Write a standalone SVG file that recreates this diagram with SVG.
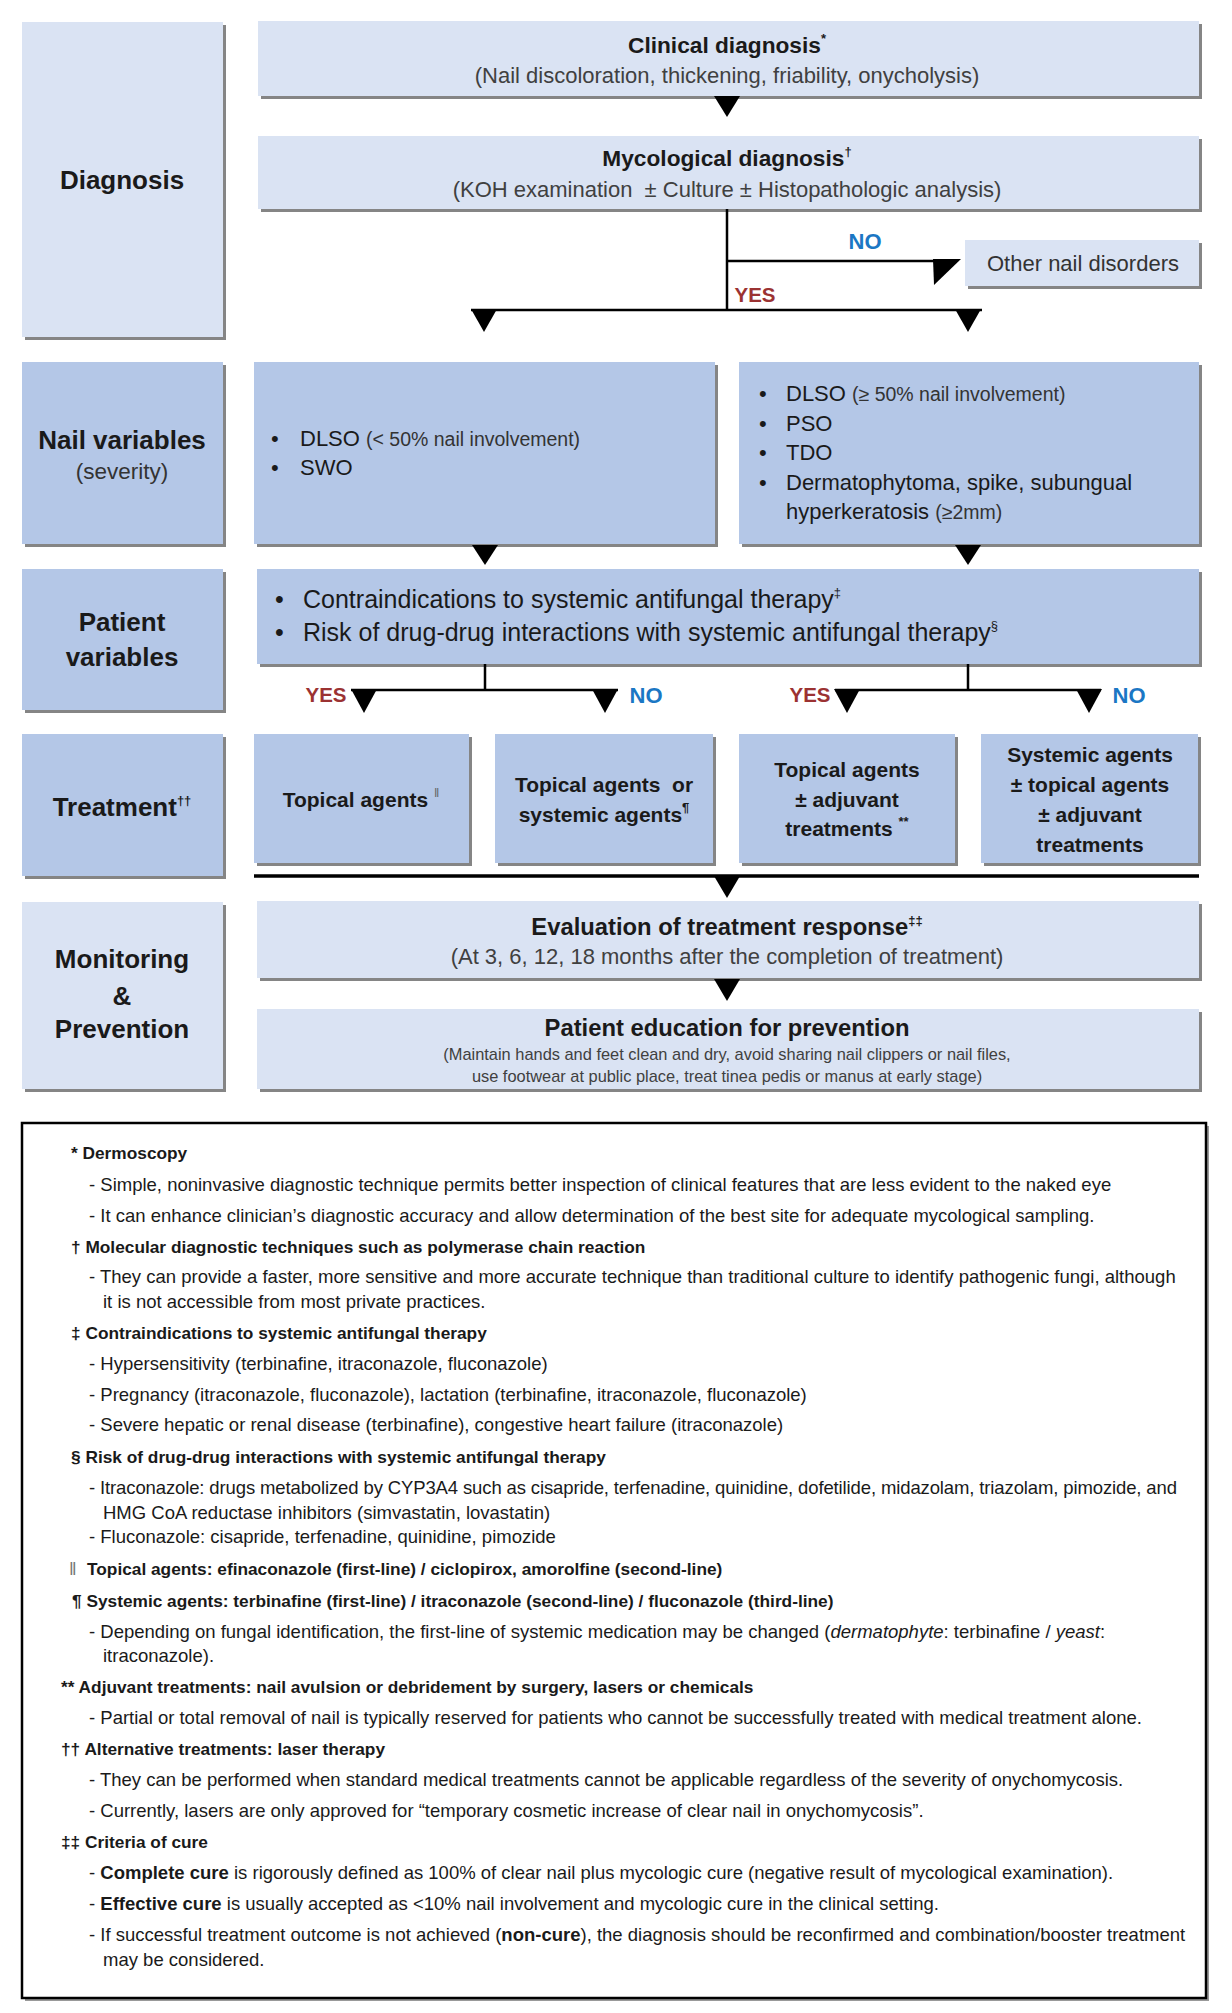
<svg xmlns="http://www.w3.org/2000/svg" width="1232" height="2013" viewBox="0 0 1232 2013">
<defs>
<style>
text{font-family:'Liberation Sans',Arial,sans-serif;fill:#1a1a1a}
.lt{fill:#dae3f3}
.md{fill:#b4c7e7}
.sh{fill:#858585}
.cat{font-size:26px;font-weight:bold;text-anchor:middle}
.catr{font-size:22.5px;text-anchor:middle;fill:#333}
.h{font-size:22.7px;font-weight:bold;text-anchor:middle}
.h2{font-size:23.8px;font-weight:bold;text-anchor:middle}
.sub{font-size:22px;text-anchor:middle;fill:#404040}
.tr{font-size:21px;font-weight:bold;text-anchor:middle}
.bl{font-size:22px}
.sm{font-size:19.5px;fill:#333}
.pb{font-size:25px}
.yes{font-size:20.5px;font-weight:bold;fill:#9b3232;text-anchor:middle}
.no{font-size:22px;font-weight:bold;fill:#1b77c4;text-anchor:middle}
.sup{font-size:13px}
.fn{font-size:18.5px}
.fb{font-size:17.3px;font-weight:bold}
.es{font-size:16.4px;text-anchor:middle;fill:#404040}
.ln{stroke:#000;stroke-width:2.5;fill:none}
.ar{fill:#000}
</style>
</defs>
<rect width="1232" height="2013" fill="#fff"/>

<!-- Category column -->
<g id="cat-diagnosis"><rect class="sh" x="25" y="25" width="201" height="315"/><rect class="lt" x="22" y="22" width="201" height="315"/><text class="cat" x="122" y="189">Diagnosis</text></g>
<g id="cat-nail"><rect class="sh" x="25" y="365" width="201" height="182"/><rect class="md" x="22" y="362" width="201" height="182"/><text class="cat" x="122" y="449">Nail variables</text><text class="catr" x="122" y="479">(severity)</text></g>
<g id="cat-patient"><rect class="sh" x="25" y="572" width="201" height="141"/><rect class="md" x="22" y="569" width="201" height="141"/><text class="cat" x="122" y="631">Patient</text><text class="cat" x="122" y="666">variables</text></g>
<g id="cat-treatment"><rect class="sh" x="25" y="737" width="201" height="142"/><rect class="md" x="22" y="734" width="201" height="142"/><text class="cat" x="122" y="816">Treatment<tspan class="sup" dy="-11">††</tspan></text></g>
<g id="cat-monitoring"><rect class="sh" x="25" y="905" width="201" height="187"/><rect class="lt" x="22" y="902" width="201" height="187"/><text class="cat" x="122" y="968">Monitoring</text><text class="cat" x="122" y="1005">&amp;</text><text class="cat" x="122" y="1038">Prevention</text></g>

<!-- Diagnosis nodes -->
<g id="clinical"><rect class="sh" x="261" y="24" width="941" height="75"/><rect class="lt" x="258" y="21" width="941" height="75"/><text class="h" x="727" y="53">Clinical diagnosis<tspan class="sup" dy="-10">*</tspan></text><text class="sub" x="727" y="83">(Nail discoloration, thickening, friability, onycholysis)</text></g>
<g id="mycological"><rect class="sh" x="261" y="139" width="941" height="73"/><rect class="lt" x="258" y="136" width="941" height="73"/><text class="h" x="727" y="166">Mycological diagnosis<tspan class="sup" dy="-10">†</tspan></text><text class="sub" x="727" y="197" xml:space="preserve">(KOH examination  ± Culture ± Histopathologic analysis)</text></g>
<g id="other"><rect class="sh" x="968" y="243" width="234" height="46"/><rect class="lt" x="965" y="240" width="234" height="46"/><text x="1083" y="271" style="font-size:22px;text-anchor:middle;fill:#333">Other nail disorders</text></g>

<!-- Nail variables -->
<g id="nail-mild"><rect class="sh" x="257" y="365" width="461" height="182"/><rect class="md" x="254" y="362" width="461" height="182"/>
<text class="bl" x="271" y="446">•</text><text class="bl" x="300" y="446">DLSO <tspan class="sm">(&lt; 50% nail involvement)</tspan></text>
<text class="bl" x="271" y="475">•</text><text class="bl" x="300" y="475">SWO</text></g>
<g id="nail-severe"><rect class="sh" x="742" y="365" width="460" height="182"/><rect class="md" x="739" y="362" width="460" height="182"/>
<text class="bl" x="759" y="401">•</text><text class="bl" x="786" y="401">DLSO <tspan class="sm">(≥ 50% nail involvement)</tspan></text>
<text class="bl" x="759" y="431">•</text><text class="bl" x="786" y="431">PSO</text>
<text class="bl" x="759" y="460">•</text><text class="bl" x="786" y="460">TDO</text>
<text class="bl" x="759" y="490">•</text><text class="bl" x="786" y="490">Dermatophytoma, spike, subungual</text>
<text class="bl" x="786" y="519">hyperkeratosis <tspan class="sm">(≥2mm)</tspan></text></g>

<!-- Patient variables -->
<g id="patient"><rect class="sh" x="260" y="572" width="942" height="95"/><rect class="md" x="257" y="569" width="942" height="95"/>
<text class="pb" x="275" y="608">•</text><text class="pb" x="303" y="608">Contraindications to systemic antifungal therapy<tspan class="sup" dy="-11">‡</tspan></text>
<text class="pb" x="275" y="641">•</text><text class="pb" x="303" y="641">Risk of drug-drug interactions with systemic antifungal therapy<tspan class="sup" dy="-11">§</tspan></text></g>

<!-- Treatment -->
<g id="t-topical"><rect class="sh" x="257" y="737" width="215" height="129"/><rect class="md" x="254" y="734" width="215" height="129"/><text class="tr" x="361" y="807">Topical agents <tspan class="sup" dy="-10" style="font-weight:normal;fill:#666">‖</tspan></text></g>
<g id="t-topical-or-systemic"><rect class="sh" x="498" y="737" width="218" height="129"/><rect class="md" x="495" y="734" width="218" height="129"/><text class="tr" x="604" y="792" xml:space="preserve">Topical agents  or</text><text class="tr" x="604" y="822">systemic agents<tspan class="sup" dy="-10">¶</tspan></text></g>
<g id="t-topical-adj"><rect class="sh" x="742" y="737" width="216" height="129"/><rect class="md" x="739" y="734" width="216" height="129"/><text class="tr" x="847" y="777">Topical agents</text><text class="tr" x="847" y="807">± adjuvant</text><text class="tr" x="847" y="836">treatments <tspan class="sup" dy="-10">**</tspan></text></g>
<g id="t-systemic"><rect class="sh" x="984" y="737" width="217" height="129"/><rect class="md" x="981" y="734" width="217" height="129"/><text class="tr" x="1090" y="762">Systemic agents</text><text class="tr" x="1090" y="792">± topical agents</text><text class="tr" x="1090" y="822">± adjuvant</text><text class="tr" x="1090" y="852">treatments</text></g>

<!-- Monitoring -->
<g id="evaluation"><rect class="sh" x="260" y="904" width="942" height="77"/><rect class="lt" x="257" y="901" width="942" height="77"/><text class="h2" x="727" y="935">Evaluation of treatment response<tspan class="sup" dy="-10">‡‡</tspan></text><text class="sub" x="727" y="964">(At 3, 6, 12, 18 months after the completion of treatment)</text></g>
<g id="education"><rect class="sh" x="260" y="1012" width="942" height="80"/><rect class="lt" x="257" y="1009" width="942" height="80"/><text class="h2" x="727" y="1036">Patient education for prevention</text><text class="es" x="727" y="1060">(Maintain hands and feet clean and dry, avoid sharing nail clippers or nail files,</text><text class="es" x="727" y="1082">use footwear at public place, treat tinea pedis or manus at early stage)</text></g>

<!-- Connectors -->
<g id="connectors">
<polygon class="ar" points="714,96 740,96 727,117"/>
<path class="ln" d="M727,209 V311 M727,261 H950 M471,310 H982"/>
<polygon class="ar" points="933,259 961,259 934,285"/>
<polygon class="ar" points="471,309 497,309 484,332"/>
<polygon class="ar" points="955,309 981,309 968,332"/>
<polygon class="ar" points="472,545 498,545 485,565"/>
<polygon class="ar" points="955,545 981,545 968,565"/>
<path class="ln" d="M485,664 V690 M351,690 H618 M968,664 V690 M835,690 H1101"/>
<polygon class="ar" points="351,689 377,689 364,713"/>
<polygon class="ar" points="592,689 618,689 605,713"/>
<polygon class="ar" points="834,689 860,689 847,713"/>
<polygon class="ar" points="1076,689 1102,689 1089,713"/>
<path d="M254,876 H1199" stroke="#000" stroke-width="3.5" fill="none"/>
<polygon class="ar" points="714,876 740,876 727,898"/>
<polygon class="ar" points="714,979 740,979 727,1001"/>
<text class="no" x="865" y="249">NO</text>
<text class="yes" x="755" y="302">YES</text>
<text class="yes" x="326" y="702">YES</text>
<text class="no" x="646" y="703">NO</text>
<text class="yes" x="810" y="702">YES</text>
<text class="no" x="1129" y="703">NO</text>
</g>

<!-- Footnotes -->
<g id="footnotes">
<rect x="25" y="1126" width="1184" height="875" fill="#999"/>
<rect x="22" y="1123" width="1184" height="875" fill="#fff" stroke="#000" stroke-width="2.5"/>
<text class="fb" x="71" y="1159">* Dermoscopy</text>
<text class="fn" x="89" y="1191">- Simple, noninvasive diagnostic technique permits better inspection of clinical features that are less evident to the naked eye</text>
<text class="fn" x="89" y="1222">- It can enhance clinician’s diagnostic accuracy and allow determination of the best site for adequate mycological sampling.</text>
<text class="fb" x="71" y="1253">† Molecular diagnostic techniques such as polymerase chain reaction</text>
<text class="fn" x="89" y="1283">- They can provide a faster, more sensitive and more accurate technique than traditional culture to identify pathogenic fungi, although</text>
<text class="fn" x="103" y="1308">it is not accessible from most private practices.</text>
<text class="fb" x="71" y="1339">‡ Contraindications to systemic antifungal therapy</text>
<text class="fn" x="89" y="1370">- Hypersensitivity (terbinafine, itraconazole, fluconazole)</text>
<text class="fn" x="89" y="1401">- Pregnancy (itraconazole, fluconazole), lactation (terbinafine, itraconazole, fluconazole)</text>
<text class="fn" x="89" y="1431">- Severe hepatic or renal disease (terbinafine), congestive heart failure (itraconazole)</text>
<text class="fb" x="71" y="1463">§ Risk of drug-drug interactions with systemic antifungal therapy</text>
<text class="fn" x="89" y="1494" textLength="1088">- Itraconazole: drugs metabolized by CYP3A4 such as cisapride, terfenadine, quinidine, dofetilide, midazolam, triazolam, pimozide, and</text>
<text class="fn" x="103" y="1519">HMG CoA reductase inhibitors (simvastatin, lovastatin)</text>
<text class="fn" x="89" y="1543">- Fluconazole: cisapride, terfenadine, quinidine, pimozide</text>
<text class="fn" x="69" y="1575" style="fill:#777">‖</text><text class="fb" x="87" y="1575">Topical agents: efinaconazole (first-line) / ciclopirox, amorolfine (second-line)</text>
<text class="fb" x="72" y="1607">¶ Systemic agents: terbinafine (first-line) / itraconazole (second-line) / fluconazole (third-line)</text>
<text class="fn" x="89" y="1638">- Depending on fungal identification, the first-line of systemic medication may be changed (<tspan font-style="italic">dermatophyte</tspan>: terbinafine / <tspan font-style="italic">yeast</tspan>:</text>
<text class="fn" x="103" y="1662">itraconazole).</text>
<text class="fb" x="61" y="1693">** Adjuvant treatments: nail avulsion or debridement by surgery, lasers or chemicals</text>
<text class="fn" x="89" y="1724">- Partial or total removal of nail is typically reserved for patients who cannot be successfully treated with medical treatment alone.</text>
<text class="fb" x="61" y="1755">†† Alternative treatments: laser therapy</text>
<text class="fn" x="89" y="1786">- They can be performed when standard medical treatments cannot be applicable regardless of the severity of onychomycosis.</text>
<text class="fn" x="89" y="1817">- Currently, lasers are only approved for “temporary cosmetic increase of clear nail in onychomycosis”.</text>
<text class="fb" x="61" y="1848">‡‡ Criteria of cure</text>
<text class="fn" x="89" y="1879">- <tspan font-weight="bold">Complete cure</tspan> is rigorously defined as 100% of clear nail plus mycologic cure (negative result of mycological examination).</text>
<text class="fn" x="89" y="1910">- <tspan font-weight="bold">Effective cure</tspan> is usually accepted as &lt;10% nail involvement and mycologic cure in the clinical setting.</text>
<text class="fn" x="89" y="1941">- If successful treatment outcome is not achieved (<tspan font-weight="bold">non-cure</tspan>), the diagnosis should be reconfirmed and combination/booster treatment</text>
<text class="fn" x="103" y="1966">may be considered.</text>
</g>
</svg>
